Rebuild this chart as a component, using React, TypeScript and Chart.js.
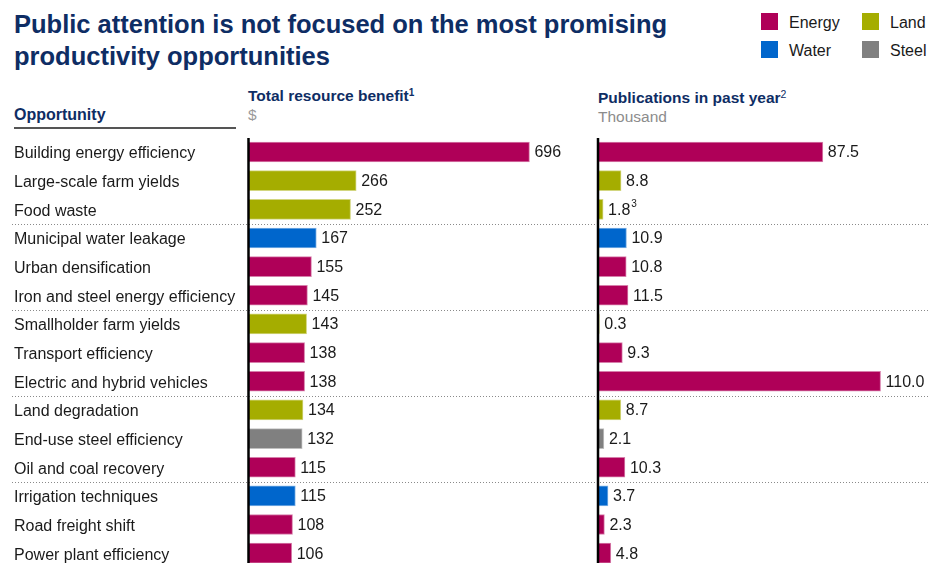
import React, { useEffect, useRef } from "react";
import { Chart, registerables } from "chart.js";

Chart.register(...registerables);

const categories = [
  "Building energy efficiency",
  "Large-scale farm yields",
  "Food waste",
  "Municipal water leakage",
  "Urban densification",
  "Iron and steel energy efficiency",
  "Smallholder farm yields",
  "Transport efficiency",
  "Electric and hybrid vehicles",
  "Land degradation",
  "End-use steel efficiency",
  "Oil and coal recovery",
  "Irrigation techniques",
  "Road freight shift",
  "Power plant efficiency",
];

const resourceType = [
  "Energy", "Land", "Land", "Water", "Energy", "Energy", "Land", "Energy",
  "Energy", "Land", "Steel", "Energy", "Water", "Energy", "Energy",
];

const benefit = [696, 266, 252, 167, 155, 145, 143, 138, 138, 134, 132, 115, 115, 108, 106];
const publications = [87.5, 8.8, 1.8, 10.9, 10.8, 11.5, 0.3, 9.3, 110.0, 8.7, 2.1, 10.3, 3.7, 2.3, 4.8];
const publicationNotes = ["", "", "3", "", "", "", "", "", "", "", "", "", "", "", ""];

// rows before which a dotted separator is drawn
const groupStarts = [3, 6, 9, 12];

const legendItems = ["Energy", "Land", "Water", "Steel"];

const typeColors: Record<string, string> = {
  Energy: "#AF0058",
  Land: "#A5AD00",
  Water: "#0066CC",
  Steel: "#808080",
};
const typeEdges: Record<string, string> = {
  Energy: "#D77FAB",
  Land: "#D2D67F",
  Water: "#7FB2E5",
  Steel: "#BFBFBF",
};

const NAVY = "#0E2D64";
const FONT = "'Liberation Sans', Arial, Helvetica, sans-serif";

const CANVAS_TOP = 120;
const CANVAS_H = 460;

export default function App() {
  const canvasRef = useRef<HTMLCanvasElement | null>(null);

  useEffect(() => {
    const canvas = canvasRef.current;
    if (!canvas) return;

    const fills = resourceType.map((t) => typeColors[t]);
    const edges = resourceType.map((t) => typeEdges[t]);

    const valueLabels = {
      id: "valueLabels",
      afterDatasetsDraw(chart: any) {
        const ctx = chart.ctx;
        ctx.save();
        ctx.fillStyle = "#1a1a1a";
        ctx.textBaseline = "middle";
        ctx.textAlign = "left";
        chart.data.datasets.forEach((ds: any, di: number) => {
          const meta = chart.getDatasetMeta(di);
          meta.data.forEach((el: any, i: number) => {
            const v = ds.data[i];
            const txt = di === 0 ? String(v) : v.toFixed(1);
            const x = el.x + 5;
            const y = el.y + 1;
            ctx.font = `16px ${FONT}`;
            ctx.fillText(txt, x, y);
            if (di === 1 && publicationNotes[i]) {
              const w = ctx.measureText(txt).width;
              ctx.font = `10px ${FONT}`;
              ctx.fillText(publicationNotes[i], x + w + 1, y - 6);
            }
          });
        });
        // axis lines
        const top = 138 - CANVAS_TOP;
        const bottom = chart.height;
        ["x1", "x2"].forEach((id) => {
          const px = chart.scales[id].getPixelForValue(0);
          ctx.beginPath();
          ctx.strokeStyle = "#000";
          ctx.lineWidth = 2.5;
          ctx.moveTo(px - 0.5, top);
          ctx.lineTo(px - 0.5, bottom);
          ctx.stroke();
        });
        ctx.restore();
      },
    };

    const separators = {
      id: "separators",
      beforeDatasetsDraw(chart: any) {
        const ctx = chart.ctx;
        const ys = chart.scales.y;
        ctx.save();
        ctx.strokeStyle = "#8a8a8a";
        ctx.lineWidth = 1;
        ctx.setLineDash([1, 2]);
        groupStarts.forEach((i) => {
          const y = Math.round((ys.getPixelForValue(i - 1) + ys.getPixelForValue(i)) / 2) + 0.5;
          ctx.beginPath();
          ctx.moveTo(12, y);
          ctx.lineTo(chart.width, y);
          ctx.stroke();
        });
        ctx.restore();
      },
    };

    const chart = new Chart(canvas, {
      type: "bar",
      data: {
        labels: categories,
        datasets: [
          {
            data: benefit,
            xAxisID: "x1",
            backgroundColor: fills,
            borderColor: edges,
            borderWidth: 1,
            barThickness: 20,
            grouped: false,
          } as any,
          {
            data: publications,
            xAxisID: "x2",
            backgroundColor: fills,
            borderColor: edges,
            borderWidth: 1,
            barThickness: 20,
            grouped: false,
          } as any,
        ],
      },
      options: {
        indexAxis: "y",
        animation: false,
        responsive: false,
        maintainAspectRatio: false,
        devicePixelRatio: 1,
        layout: { padding: { left: 14, right: 0, top: 137.7 - CANVAS_TOP, bottom: CANVAS_H - (567.5 - CANVAS_TOP) } },
        plugins: {
          legend: { display: false },
          tooltip: { enabled: false },
        },
        scales: {
          y: {
            type: "category",
            position: "left",
            grid: { display: false },
            border: { display: false },
            ticks: {
              crossAlign: "far",
              padding: 0,
              labelOffset: 2,
              color: "#1a1a1a",
              font: { family: FONT, size: 16 },
            },
            afterFit(scale: any) {
              scale.width = 235;
            },
          },
          x1: {
            type: "linear",
            display: false,
            min: 0,
            max: 1685,
          },
          x2: {
            type: "linear",
            display: false,
            min: -136.3,
            max: 128.5,
          },
        },
      } as any,
      plugins: [separators, valueLabels],
    });

    return () => chart.destroy();
  }, []);

  const txt = (
    top: number,
    left: number,
    size: number,
    extra: React.CSSProperties = {}
  ): React.CSSProperties => ({
    position: "absolute",
    top,
    left,
    fontSize: size,
    lineHeight: `${size}px`,
    fontFamily: FONT,
    whiteSpace: "nowrap",
    margin: 0,
    ...extra,
  });

  const legendPos: Record<string, [number, number]> = {
    Energy: [761, 13],
    Land: [862, 13],
    Water: [761, 41],
    Steel: [862, 41],
  };

  return (
    <div
      style={{
        position: "fixed",
        left: 0,
        top: 0,
        width: 928,
        height: 563,
        overflow: "hidden",
        background: "#fff",
      }}
    >
      <div
        style={{
          position: "absolute",
          top: 8,
          left: 14,
          fontFamily: FONT,
          fontWeight: "bold",
          fontSize: 25.5,
          lineHeight: "32px",
          color: NAVY,
          whiteSpace: "nowrap",
        }}
      >
        Public attention is not focused on the most promising
        <br />
        productivity opportunities
      </div>

      {legendItems.map((name) => {
        const [x, y] = legendPos[name];
        return (
          <React.Fragment key={name}>
            <div
              style={{
                position: "absolute",
                left: x,
                top: y,
                width: 17,
                height: 17,
                background: typeColors[name],
              }}
            />
            <div style={txt(y + 2, x + 28, 16, { color: "#1a1a1a" })}>{name}</div>
          </React.Fragment>
        );
      })}

      <div style={txt(106.5, 14, 16, { fontWeight: "bold", color: NAVY })}>Opportunity</div>
      <div
        style={{
          position: "absolute",
          left: 14,
          top: 127,
          width: 222,
          height: 1.5,
          background: "#555",
        }}
      />

      <div style={txt(87.6, 248, 15.5, { fontWeight: "bold", color: NAVY })}>
        Total resource benefit
        <span style={{ fontSize: 10, position: "relative", top: -5 }}>1</span>
      </div>
      <div style={txt(107, 248, 15.5, { color: "#999" })}>$</div>

      <div style={txt(90.2, 598, 15.5, { fontWeight: "bold", color: NAVY })}>
        Publications in past year
        <span style={{ fontSize: 10.5, fontWeight: "normal", position: "relative", top: -5 }}>2</span>
      </div>
      <div style={txt(108.6, 598, 15.5, { color: "#8c8c8c" })}>Thousand</div>

      <canvas
        ref={canvasRef}
        width={928}
        height={CANVAS_H}
        style={{ position: "absolute", left: 0, top: CANVAS_TOP, width: 928, height: CANVAS_H }}
      />
    </div>
  );
}
